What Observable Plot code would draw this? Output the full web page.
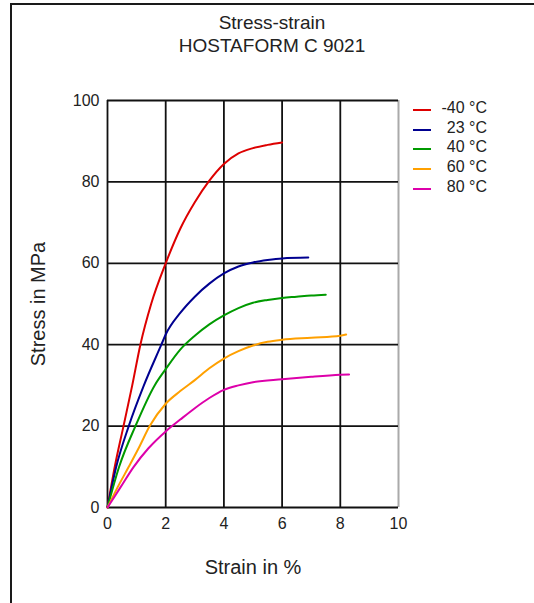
<!DOCTYPE html>
<html>
<head>
<meta charset="utf-8">
<script src="https://cdn.jsdelivr.net/npm/d3@7"></script>
<script src="https://cdn.jsdelivr.net/npm/@observablehq/plot@0.6"></script>
<style>
  html, body { margin: 0; padding: 0; background: #fff; }
  #wrap { position: relative; width: 534px; height: 603px; overflow: hidden; font-family: "Liberation Sans", Arial, sans-serif; color: #222; }
  #frame { position: absolute; left: 10px; top: 3px; right: -5px; bottom: -5px; border-left: 2px solid #1a1a1a; border-top: 2px solid #1a1a1a; }
  .title { position: absolute; left: 0; width: 544px; text-align: center; font-size: 19px; }
  #legend { position: absolute; left: 413px; top: 99px; font-size: 16px; }
  .row { position: relative; height: 19.7px; width: 74px; }
  .sw { position: absolute; left: 0; top: 10px; width: 18px; height: 2px; }
  .lab { position: absolute; right: 0; top: 0; white-space: pre; }
  svg { position: absolute; left: 0; top: 0; }
</style>
</head>
<body>
<div id="wrap">
  <div id="frame"></div>
  <div class="title" style="top:12px">Stress-strain</div>
  <div class="title" style="top:35px">HOSTAFORM C 9021</div>
  <div id="legend"></div>
</div>
<script>
// Series labels and colours
const seriesNames = ["-40 °C", "23 °C", "40 °C", "60 °C", "80 °C"];
const seriesColors = ["#dd0000", "#000090", "#009a00", "#ffa000", "#dd00aa"];

// Strain (%) and stress (MPa) per series
const strainM40 = [0, 0.25, 0.55, 0.85, 1.13, 1.5, 2, 2.5, 3, 3.5, 4, 4.5, 5, 5.5, 6];
const stressM40 = [0, 10, 20, 30, 40, 50, 60, 68.5, 75, 80.3, 84.4, 87, 88.3, 89.1, 89.7];

const strain23 = [0, 0.3, 0.73, 1.25, 1.85, 2, 2.5, 3, 3.5, 4, 4.5, 5, 5.5, 6, 6.9];
const stress23 = [0, 10, 20, 30, 40, 42.5, 47.8, 51.8, 55, 57.5, 59.2, 60.2, 60.8, 61.2, 61.4];

const strain40 = [0, 0.4, 0.96, 1.62, 2, 2.5, 3, 3.5, 4, 4.5, 5, 5.5, 6, 6.5, 7, 7.5];
const stress40 = [0, 10, 20, 30, 34, 38.8, 42.2, 45, 47.2, 49, 50.3, 51, 51.5, 51.8, 52.1, 52.3];

const strain60 = [0, 0.35, 0.73, 1.1, 1.45, 2, 2.5, 3, 3.5, 4, 4.5, 5, 5.5, 6, 7, 8, 8.2];
const stress60 = [0, 5, 10, 15, 20, 25.5, 28.6, 31.3, 34.2, 36.6, 38.4, 39.8, 40.7, 41.2, 41.7, 42.2, 42.5];

const strain80 = [0, 0.45, 0.9, 1.4, 2, 2.5, 3, 3.5, 4, 4.5, 5, 6, 7, 8, 8.3];
const stress80 = [0, 5, 10, 14.5, 18.7, 21.6, 24.4, 26.9, 28.9, 30, 30.8, 31.5, 32.1, 32.6, 32.7];

// Axis ticks
const xTicks = [0, 2, 4, 6, 8, 10];
const yTicks = [0, 20, 40, 60, 80, 100];

const strains = [strainM40, strain23, strain40, strain60, strain80];
const stresses = [stressM40, stress23, stress40, stress60, stress80];
const data = [];
seriesNames.forEach((name, i) => {
  strains[i].forEach((s, j) => data.push({series: name, strain: s, stress: stresses[i][j]}));
});

const chart = Plot.plot({
  width: 534,
  height: 603,
  marginLeft: 107,
  marginRight: 136,
  marginTop: 100,
  marginBottom: 96,
  style: {fontFamily: '"Liberation Sans", Arial, sans-serif', fontSize: "16px", color: "#222", background: "transparent", overflow: "visible"},
  x: {domain: [0, 10], ticks: xTicks, tickSize: 0, tickPadding: 10, label: "Strain in %", labelAnchor: "center", labelArrow: "none", labelOffset: 66},
  y: {domain: [0, 100], ticks: yTicks, tickSize: 0, tickPadding: 8, label: "Stress in MPa", labelAnchor: "center", labelArrow: "none", labelOffset: 77},
  color: {domain: seriesNames, range: seriesColors},
  marks: [
    Plot.ruleX(xTicks.slice(0, -1), {stroke: "#111", strokeWidth: 1.8}),
    Plot.ruleX(xTicks.slice(-1), {stroke: "#aaa", strokeWidth: 2}),
    Plot.ruleY(yTicks, {stroke: "#111", strokeWidth: 1.8}),
    Plot.line(data, {x: "strain", y: "stress", z: "series", stroke: "series", strokeWidth: 2, curve: "monotone-x"})
  ]
});
document.getElementById("wrap").appendChild(chart);

// axis label font sizes
chart.querySelectorAll("[aria-label='x-axis label'] text, [aria-label='y-axis label'] text").forEach(t => t.style.fontSize = "20px");

const legend = document.getElementById("legend");
seriesNames.forEach((name, i) => {
  const row = document.createElement("div");
  row.className = "row";
  row.innerHTML = `<div class="sw" style="background:${seriesColors[i]}"></div><div class="lab">${name}</div>`;
  legend.appendChild(row);
});
</script>
</body>
</html>
